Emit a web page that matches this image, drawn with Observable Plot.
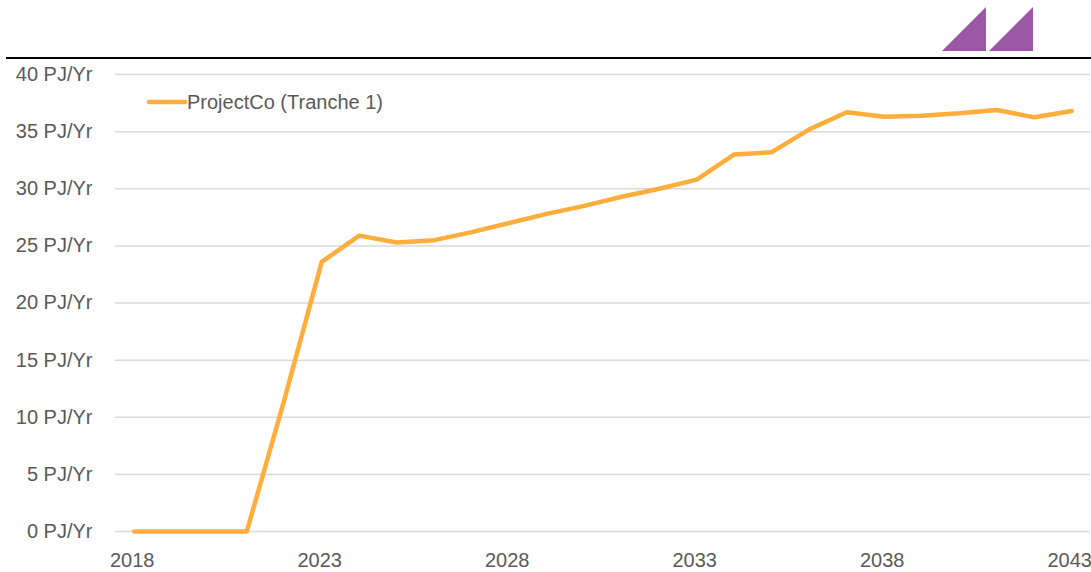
<!DOCTYPE html>
<html>
<head>
<meta charset="utf-8">
<script src="https://cdn.jsdelivr.net/npm/d3@7"></script>
<script src="https://cdn.jsdelivr.net/npm/@observablehq/plot@0.6"></script>
<style>
  html, body { margin: 0; padding: 0; background: #fff; }
  #chart { width: 1091px; height: 572px; overflow: hidden; }
</style>
</head>
<body>
<div id="chart"></div>
<script>
// ---- Data ----
const years = [2018, 2019, 2020, 2021, 2022, 2023, 2024, 2025, 2026, 2027, 2028, 2029, 2030,
               2031, 2032, 2033, 2034, 2035, 2036, 2037, 2038, 2039, 2040, 2041, 2042, 2043];
const projectCo = [0, 0, 0, 0, 11.5, 23.6, 25.9, 25.3, 25.5, 26.2, 27.0, 27.8, 28.5,
                   29.3, 30.0, 30.8, 33.0, 33.2, 35.2, 36.7, 36.3, 36.4, 36.6, 36.9, 36.25, 36.8];
const seriesName = "ProjectCo (Tranche 1)";
const xTicks = [2018, 2023, 2028, 2033, 2038, 2043];
const yTicks = [0, 5, 10, 15, 20, 25, 30, 35, 40];
const yUnit = " PJ/Yr";

const lineColor = "#FFAD3B";
const textColor = "#595959";
const gridColor = "#D9D9D9";
const fontFam = "'Liberation Sans', Arial, sans-serif";

const data = years.map((y, i) => ({year: y, value: projectCo[i]}));

const W = 1091, H = 572;
const plot = Plot.plot({
  width: W,
  height: H,
  marginTop: 74,
  marginBottom: 41,
  marginLeft: 115,
  marginRight: 1,
  style: {
    fontFamily: fontFam,
    fontSize: "20px",
    color: textColor,
    background: "#fff"
  },
  x: {domain: [2017.5, 2043.5]},
  y: {domain: [0, 40]},
  marks: [
    Plot.gridY(yTicks, {stroke: gridColor, strokeOpacity: 1, strokeWidth: 1.5}),
    Plot.axisY(yTicks, {tickSize: 0, tickPadding: 23, fill: textColor, fontSize: 20, label: null,
                        tickFormat: d => d + yUnit}),
    Plot.axisX(xTicks, {tickSize: 0, tickPadding: 21, fill: textColor, fontSize: 20, label: null,
                        dx: -2, tickFormat: d => String(d)}),
    Plot.lineY(data, {x: "year", y: "value", stroke: lineColor, strokeWidth: 4.5,
                      strokeLinejoin: "round", strokeLinecap: "round"})
  ]
});

document.getElementById("chart").appendChild(plot);

// ---- Decorations (header rule, logo, legend) ----
const svg = d3.select(plot);
const deco = svg.append("g");
deco.append("line")
  .attr("x1", 6).attr("x2", W).attr("y1", 58).attr("y2", 58)
  .attr("stroke", "#000").attr("stroke-width", 2.2);
const purple = "#9C57A6";
deco.append("path").attr("d", "M942,51 L986,7 L986,51 Z").attr("fill", purple);
deco.append("path").attr("d", "M989,51 L1033,7 L1033,51 Z").attr("fill", purple);

const leg = svg.append("g");
leg.append("line")
  .attr("x1", 149).attr("x2", 185).attr("y1", 102).attr("y2", 102)
  .attr("stroke", lineColor).attr("stroke-width", 4.5).attr("stroke-linecap", "round");
leg.append("text")
  .attr("x", 187).attr("y", 108.5)
  .attr("text-anchor", "start")
  .attr("fill", textColor)
  .attr("font-size", 20)
  .attr("font-family", fontFam)
  .text(seriesName);
</script>
</body>
</html>
